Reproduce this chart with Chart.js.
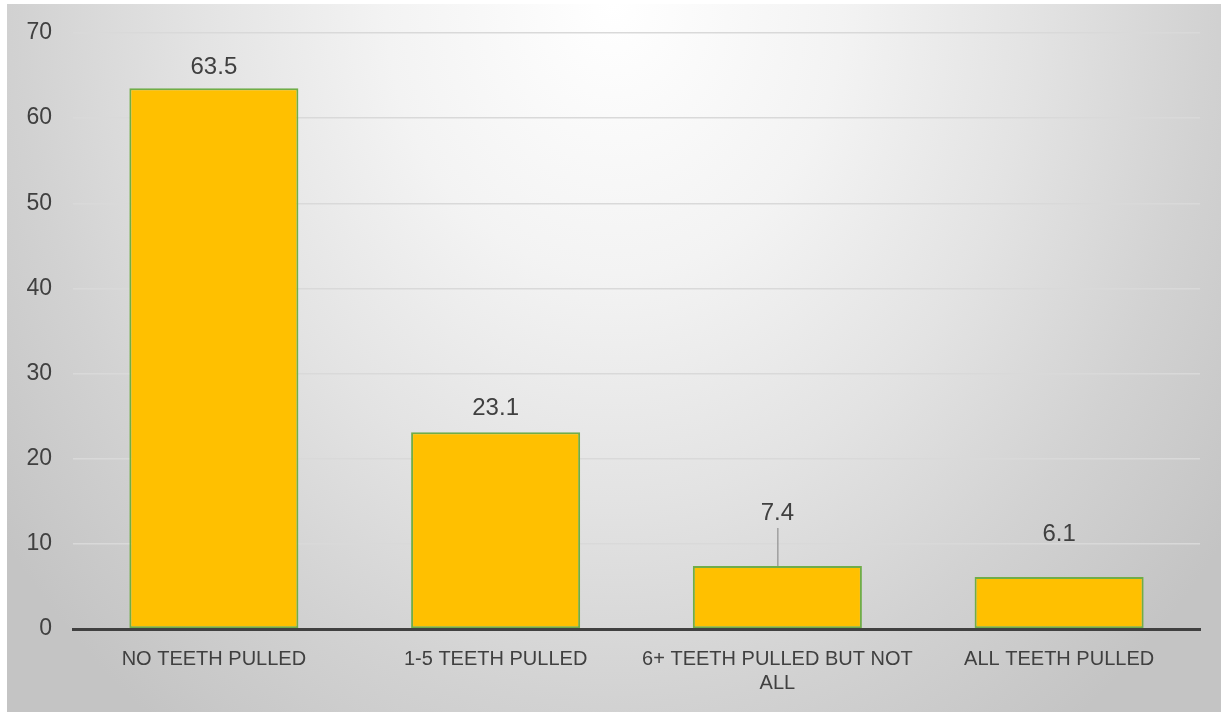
<!DOCTYPE html>
<html>
<head>
<meta charset="utf-8">
<script src="https://cdn.jsdelivr.net/npm/chart.js@4.4.1/dist/chart.umd.min.js"></script>
<style>
  html,body{margin:0;padding:0;background:#fff;width:1221px;height:712px;overflow:hidden}
  #wrap{position:absolute;left:7px;top:4px;width:1214px;height:708px;
    background:radial-gradient(760px 900px at 50% 0%, #ffffff 0%, #f3f3f3 30%, #e3e3e3 55%, #d2d2d2 78%, #c4c4c4 100%)}
  canvas{display:block}
</style>
</head>
<body>
<div id="wrap"><canvas id="chart" width="1214" height="708"></canvas></div>
<script>
  // categories and values
  var categories = [['NO TEETH PULLED'], ['1-5 TEETH PULLED'], ['6+ TEETH PULLED BUT NOT', 'ALL'], ['ALL TEETH PULLED']];
  var values = [63.5, 23.1, 7.4, 6.1];
  var yTicks = [0, 10, 20, 30, 40, 50, 60, 70];

  var TEXT = '#404040';
  var FONT = '"Liberation Sans", Arial, sans-serif';

  // how far above the bar top each label sits (Excel had two of them dragged up)
  var labelLift = [21, 24, 53, 43];
  var leader = [false, false, true, false];

  var dataLabels = {
    id: 'dataLabels',
    afterDatasetsDraw: function(chart){
      var ctx = chart.ctx;
      var meta = chart.getDatasetMeta(0);
      ctx.save();
      ctx.font = '24px ' + FONT;
      ctx.fillStyle = TEXT;
      ctx.textAlign = 'center';
      ctx.textBaseline = 'middle';
      meta.data.forEach(function(bar, i){
        var y = bar.y - labelLift[i];
        ctx.fillText(String(values[i]), bar.x, y);
        if(leader[i]){
          ctx.strokeStyle = '#808080';
          ctx.lineWidth = 1;
          ctx.beginPath();
          ctx.moveTo(bar.x + 0.5, y + 15);
          ctx.lineTo(bar.x + 0.5, bar.y);
          ctx.stroke();
        }
      });
      ctx.restore();
    }
  };

  new Chart(document.getElementById('chart').getContext('2d'), {
    type: 'bar',
    data: {
      labels: categories,
      datasets: [{
        data: values,
        backgroundColor: '#FFC000',
        borderColor: '#70AD47',
        borderWidth: 2,
        borderSkipped: false,
        categoryPercentage: 1,
        barPercentage: 0.6
      }]
    },
    options: {
      responsive: false,
      animation: false,
      layout: { padding: { top: 29, right: 21, left: 0, bottom: 0 } },
      plugins: { legend: { display: false }, tooltip: { enabled: false } },
      scales: {
        x: {
          grid: { display: false, drawTicks: false },
          border: { display: true, color: TEXT, width: 3, z: 1 },
          ticks: { color: TEXT, font: { family: FONT, size: 20 }, padding: 18, maxRotation: 0, autoSkip: false },
          afterFit: function(s){ s.height = 83; s.paddingLeft = 0; s.paddingRight = 0; }
        },
        y: {
          min: 0, max: 70,
          afterBuildTicks: function(s){ s.ticks = yTicks.map(function(v){ return { value: v }; }); },
          grid: { color: '#d9d9d9', lineWidth: 1.5, drawTicks: false },
          border: { display: false },
          ticks: { color: TEXT, font: { family: FONT, size: 23 }, padding: 21 },
          afterFit: function(s){ s.width = 66; s.paddingTop = 0; s.paddingBottom = 0; }
        }
      }
    },
    plugins: [dataLabels]
  });
</script>
</body>
</html>
